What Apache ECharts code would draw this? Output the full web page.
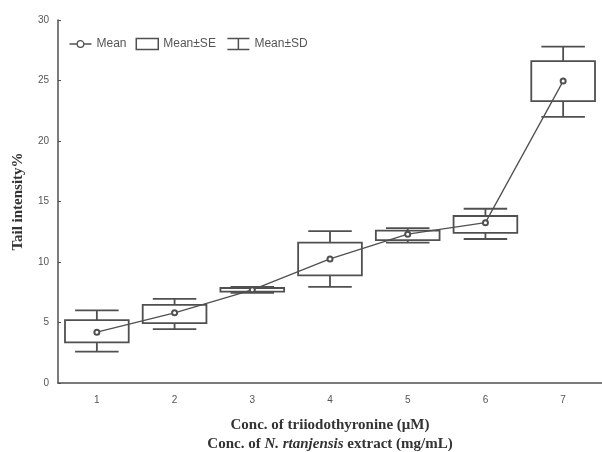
<!DOCTYPE html>
<html>
<head>
<meta charset="utf-8">
<script src="https://cdn.jsdelivr.net/npm/echarts@6/dist/echarts.min.js"></script>
<style>html,body{margin:0;padding:0;background:#fff}</style>
</head>
<body>
<div id="main" style="width:602px;height:452px;"></div>
<script>
// 浓度组 1-7
var categories = ['1', '2', '3', '4', '5', '6', '7'];
var meanVals = [4.2, 5.8, 7.7, 10.25, 12.3, 13.25, 24.95];
// Mean±SE 箱体上下沿
var seLow = [3.35, 4.95, 7.55, 8.9, 11.8, 12.4, 23.3];
var seHigh = [5.2, 6.45, 7.85, 11.6, 12.6, 13.8, 26.6];
// Mean±SD 须线
var sdLow = [2.6, 4.45, 7.45, 7.95, 11.6, 11.9, 22.0];
var sdHigh = [6.0, 6.95, 7.95, 12.55, 12.8, 14.4, 27.8];
var yTicks = [0, 5, 10, 15, 20, 25, 30];

var lineColor = '#505050';

var seData = categories.map(function (c, i) { return [i, seLow[i], seHigh[i]]; });
var sdData = categories.map(function (c, i) { return [i, sdLow[i], sdHigh[i], seLow[i], seHigh[i]]; });

var myChart = echarts.init(document.getElementById('main'));
myChart.setOption({
  animation: false,
  grid: { left: 58, right: 0, top: 20, bottom: 69, outerBoundsMode: 'none' },
  legend: {
    left: 62, top: 31,
    itemGap: 9,
    itemWidth: 22, itemHeight: 11,
    textStyle: { fontFamily: 'Liberation Sans', fontSize: 12, color: '#555' },
    data: [
      { name: 'Mean', icon: 'path://M0,5 L7,5 M13,5 L20,5 M7,5 A3,3 0 1 0 13,5 A3,3 0 1 0 7,5 Z',
        itemStyle: { color: 'none', borderColor: lineColor, borderWidth: 1.3 } },
      { name: 'Mean±SE', icon: 'rect',
        itemStyle: { color: '#fff', borderColor: lineColor, borderWidth: 1.5 } },
      { name: 'Mean±SD', icon: 'path://M0,0 L20,0 M10,0 L10,10 M0,10 L20,10',
        itemStyle: { color: 'none', borderColor: lineColor, borderWidth: 1.5 } }
    ]
  },
  xAxis: {
    type: 'category',
    data: categories,
    boundaryGap: true,
    axisLine: { lineStyle: { color: lineColor, width: 1.5 } },
    axisTick: { alignWithLabel: true, inside: true, length: 3, lineStyle: { color: lineColor } },
    axisLabel: { margin: 12, fontSize: 10, color: '#555', fontFamily: 'Liberation Sans' },
    name: '{b|Conc. of triiodothyronine (μM)}\n{b|Conc. of }{i|N. rtanjensis}{b| extract (mg/mL)}',
    nameLocation: 'middle',
    nameGap: 33,
    nameTextStyle: {
      align: 'center',
      rich: {
        b: { fontFamily: 'Liberation Serif', fontWeight: 'bold', fontSize: 15, color: '#333', lineHeight: 19 },
        i: { fontFamily: 'Liberation Serif', fontWeight: 'bold', fontStyle: 'italic', fontSize: 15, color: '#333', lineHeight: 19 }
      }
    }
  },
  yAxis: {
    type: 'value',
    min: 0, max: 30, interval: 5,
    splitLine: { show: false },
    axisLine: { show: true, lineStyle: { color: lineColor, width: 1.5 } },
    axisTick: { show: true, inside: true, length: 3, lineStyle: { color: lineColor } },
    axisLabel: { margin: 9, fontSize: 10, color: '#555', fontFamily: 'Liberation Sans',
      formatter: function (v) { return yTicks.indexOf(v) >= 0 ? String(v) : ''; } },
    name: 'Tail intensity%',
    nameLocation: 'middle',
    nameGap: 32,
    nameTextStyle: { fontFamily: 'Liberation Serif', fontWeight: 'bold', fontSize: 15, color: '#333' }
  },
  series: [
    {
      name: 'Mean±SD',
      type: 'custom',
      itemStyle: { color: lineColor },
      renderItem: function (params, api) {
        var x = api.value(0);
        var lo = api.coord([x, api.value(1)]);
        var hi = api.coord([x, api.value(2)]);
        var bLo = api.coord([x, api.value(3)]);
        var bHi = api.coord([x, api.value(4)]);
        var half = api.size([1, 0])[0] * 0.28;
        var st = { stroke: lineColor, lineWidth: 1.8 };
        return {
          type: 'group',
          children: [
            { type: 'line', shape: { x1: hi[0], y1: hi[1], x2: bHi[0], y2: bHi[1] }, style: st },
            { type: 'line', shape: { x1: lo[0], y1: lo[1], x2: bLo[0], y2: bLo[1] }, style: st },
            { type: 'line', shape: { x1: hi[0] - half, y1: hi[1], x2: hi[0] + half, y2: hi[1] }, style: st },
            { type: 'line', shape: { x1: lo[0] - half, y1: lo[1], x2: lo[0] + half, y2: lo[1] }, style: st }
          ]
        };
      },
      encode: { x: 0, y: [1, 2] },
      data: sdData,
      z: 2
    },
    {
      name: 'Mean±SE',
      type: 'custom',
      itemStyle: { color: lineColor },
      renderItem: function (params, api) {
        var x = api.value(0);
        var lo = api.coord([x, api.value(1)]);
        var hi = api.coord([x, api.value(2)]);
        var w = api.size([1, 0])[0] * 0.82;
        return {
          type: 'rect',
          shape: { x: lo[0] - w / 2, y: hi[1], width: w, height: lo[1] - hi[1] },
          style: { fill: 'none', stroke: lineColor, lineWidth: 1.8 }
        };
      },
      encode: { x: 0, y: [1, 2] },
      data: seData,
      z: 3
    },
    {
      name: 'Mean',
      type: 'line',
      data: meanVals,
      symbol: 'emptyCircle',
      symbolSize: 5,
      lineStyle: { color: lineColor, width: 1.3 },
      itemStyle: { color: lineColor, borderWidth: 1 },
      z: 4
    }
  ]
});
</script>
</body>
</html>
